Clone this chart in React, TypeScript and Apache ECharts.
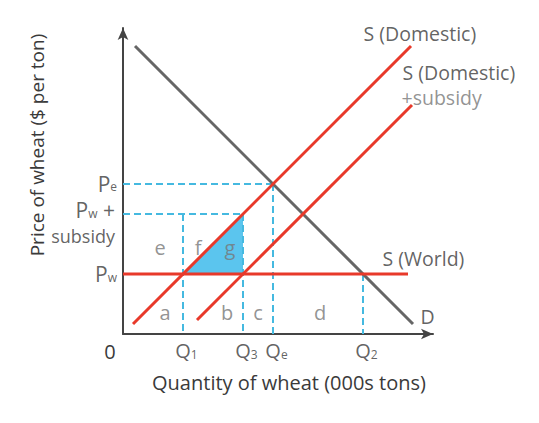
import React, { useEffect, useRef } from "react";
import * as echarts from "echarts";

// Quantities (000s tons, arbitrary units) and prices
const qNames = ["1", "3", "e", "2"];
const qValues = [6, 12, 15, 24];
const pw = 6;
const pwSubsidy = 12;
const pe = 15;

// Curves (endpoints)
const domesticSupply = [[1, 1], [28.8, 28.8]];
const subsidySupply = [[7.4, 1.4], [28.9, 22.9]];
const demand = [[1.2, 28.8], [29, 1]];
const worldSupply = [[0, 6], [28.5, 6]];

// Area letters
const areaLetters = ["a", "b", "c", "d", "e", "f", "g"];
const areaPos = [[4.2, 2.2], [10.4, 2.2], [13.5, 2.2], [19.7, 2.2], [3.7, 8.7], [7.5, 8.7], [10.7, 8.7]];

const FONT = "Open Sans";
const RED = "#e8392a";
const CYAN = "#45b9e0";
const TXT = "#3a3a3a";

export default function App() {
  const ref = useRef<HTMLDivElement>(null);
  useEffect(() => {
    const chart = echarts.init(ref.current!, null, { renderer: "svg" });

    const dashed = (pts: number[][]) => ({
      type: "line",
      data: pts,
      symbol: "none",
      silent: true,
      z: 2,
      lineStyle: { color: CYAN, width: 2, type: [7, 4] },
    });
    const solid = (pts: number[][], color: string) => ({
      type: "line",
      data: pts,
      symbol: "none",
      silent: true,
      z: 4,
      lineStyle: { color, width: 3 },
    });

    const subRich = {
      p: { fontSize: 21, fontFamily: FONT, color: TXT, lineHeight: 18 },
      q: { fontSize: 20, fontFamily: FONT, color: TXT, lineHeight: 20 },
      s: { fontSize: 12, fontFamily: FONT, color: TXT, lineHeight: 10, verticalAlign: "bottom" },
    };

    const labelItems: any[] = [];
    // Q labels
    qNames.forEach((n, i) => {
      labelItems.push({
        value: [qValues[i] + 0.35, -1.65],
        label: { show: true, position: "inside", formatter: `{q|Q}{s|${n}}`, rich: subRich },
      });
    });
    // P labels
    labelItems.push({
      value: [-0.55, pe + 0.05],
      label: { show: true, position: "left", distance: 0, formatter: "{p|P}{s|e}", rich: subRich },
    });
    labelItems.push({
      value: [-0.75, pwSubsidy + 0.4],
      label: { show: true, position: "left", distance: 0, formatter: "{p|P}{s|w}{p| +}", rich: subRich },
    });
    labelItems.push({
      value: [-0.75, pwSubsidy - 2.15],
      label: { show: true, position: "left", distance: 0, formatter: "subsidy", fontSize: 18, lineHeight: 18, fontFamily: FONT, color: TXT },
    });
    labelItems.push({
      value: [-0.55, pw],
      label: { show: true, position: "left", distance: 0, formatter: "{p|P}{s|w}", rich: subRich },
    });
    // Curve labels
    const plain = (x: number, y: number, t: string, color = TXT) => ({
      value: [x, y],
      label: { show: true, position: "right", distance: 0, formatter: t, fontSize: 19.5, fontFamily: FONT, color },
    });
    labelItems.push(plain(24, 30.1, "S (Domestic)"));
    labelItems.push(plain(27.9, 26.2, "S (Domestic)"));
    labelItems.push(plain(27.8, 23.7, "+subsidy", "#777"));
    labelItems.push(plain(25.9, 7.6, "S (World)"));
    labelItems.push(plain(29.7, 1.8, "D"));
    areaLetters.forEach((l, i) => {
      labelItems.push({
        value: areaPos[i],
        label: { show: true, position: "inside", formatter: l, fontSize: 20, fontFamily: FONT, color: "#777" },
      });
    });

    const q1 = qValues[0], q3 = qValues[1], qe = qValues[2], q2 = qValues[3];

    chart.setOption({
      animation: false,
      grid: { left: 123, right: 106, top: 28, bottom: 89 },
      xAxis: {
        type: "value",
        min: 0,
        max: 31,
        axisLine: { show: true, symbol: ["none", "arrow"], symbolSize: [8, 12], lineStyle: { color: "#444", width: 2 } },
        axisTick: { show: false },
        axisLabel: { show: false },
        splitLine: { show: false },
      },
      yAxis: {
        type: "value",
        min: 0,
        max: 30.6,
        axisLine: { show: true, symbol: ["none", "arrow"], symbolSize: [8, 12], lineStyle: { color: "#444", width: 2 } },
        axisTick: { show: false },
        axisLabel: { show: false },
        splitLine: { show: false },
      },
      graphic: [
        { type: "text", x: 289, y: 382, style: { text: "Quantity of wheat (000s tons)", fontSize: 20, fontFamily: FONT, fill: TXT, align: "center", verticalAlign: "middle" } },
        { type: "text", x: 37, y: 145, rotation: Math.PI / 2, style: { text: "Price of wheat ($ per ton)", fontSize: 19, fontFamily: FONT, fill: TXT, align: "center", verticalAlign: "middle" } },
        { type: "text", x: 110, y: 351, style: { text: "0", fontSize: 20, fontFamily: FONT, fill: TXT, align: "center", verticalAlign: "middle" } },
      ],
      series: [
        {
          type: "custom",
          silent: true,
          z: 1,
          renderItem: (params: any, api: any) => {
            const pts = [[q1, pw], [q3, pw], [q3, pwSubsidy]].map((p) => api.coord(p));
            return { type: "polygon", shape: { points: pts }, style: { fill: "#5bc5ee" } };
          },
          data: [[0, 0]],
        },
        dashed([[0, pe], [qe, pe]]),
        dashed([[qe, pe], [qe, 0]]),
        dashed([[0, pwSubsidy], [q3, pwSubsidy]]),
        dashed([[q3, pwSubsidy], [q3, 0]]),
        dashed([[q1, pwSubsidy], [q1, 0]]),
        dashed([[q2, pw], [q2, 0]]),
        solid(demand, "#666"),
        solid(domesticSupply, RED),
        solid(subsidySupply, RED),
        solid(worldSupply, RED),
        {
          type: "scatter",
          clip: false,
          silent: true,
          symbolSize: 1,
          itemStyle: { color: "rgba(0,0,0,0)" },
          z: 10,
          data: labelItems,
        },
      ],
    });
    return () => chart.dispose();
  }, []);
  return <div ref={ref} style={{ position: "fixed", left: 0, top: 0, width: 539, height: 423, background: "#fff" }} />;
}
